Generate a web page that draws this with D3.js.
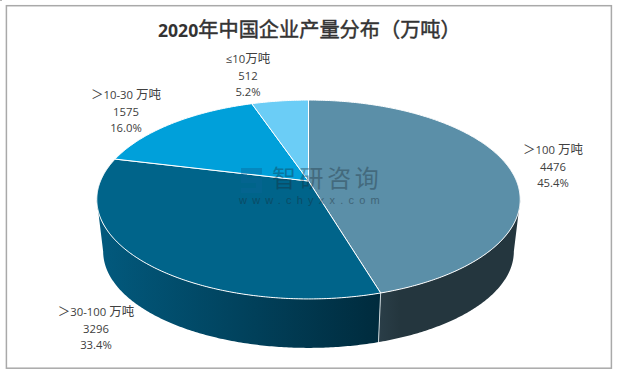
<!DOCTYPE html>
<html><head><meta charset="utf-8">
<script src="https://cdn.jsdelivr.net/npm/d3@7/dist/d3.min.js"></script>
<style>html,body{margin:0;padding:0;background:#fff}svg{display:block}</style>
</head><body><div id="c"></div>
<script>
const categories = ["＞100 万吨", "＞30-100 万吨", "＞10-30 万吨", "≤10万吨"];
const values = [4476, 3296, 1575, 512];
const percents = ["45.4%", "33.4%", "16.0%", "5.2%"];
const topColors = ["#5b8fa8", "#00648a", "#00a0da", "#6bcdf6"];
const sideFrom = ["#24363e", "#025a7e"];
const sideTo = ["#2a3e48", "#002b3d"];
const titleText = "2020年中国企业产量分布（万吨）";

const W = 618, H = 374;
const svg = d3.select("#c").append("svg").attr("width", W).attr("height", H);
const FONT = "'Noto Sans CJK SC','Noto Sans',sans-serif";
const LF = "'Open Sans','Noto Sans CJK SC',sans-serif";
const isCJK = /[\u3000-\u9fff\uff00-\uffef]/;

// split a string into runs of CJK / non-CJK so each can have its own size
function runs(s) {
  const out = [];
  for (const ch of s) {
    const c = isCJK.test(ch);
    if (out.length && out[out.length - 1].c === c) out[out.length - 1].t += ch;
    else out.push({ t: ch, c });
  }
  return out;
}

svg.append("rect").attr("x", 0).attr("y", 0).attr("width", 2).attr("height", 1).attr("fill", "#b5b5b5");
svg.append("rect").attr("x", 6.4).attr("y", 5.7).attr("width", 605).attr("height", 362.5)
  .attr("fill", "#fff").attr("stroke", "#a9a9a9").attr("stroke-width", 1.5);

const title = svg.append("text").attr("x", 158).attr("y", 37).attr("text-anchor", "start").attr("fill", "#333");
runs(titleText).forEach(r => {
  title.append("tspan").text(r.t)
    .attr("font-family", r.c ? FONT : LF)
    .attr("font-weight", r.c ? 400 : 700)
    .attr("font-size", r.c ? 20.2 : 17.6)
    .attr("stroke", r.c ? "#333" : "none").attr("stroke-width", r.c ? 0.45 : 0);
});

// Perspective projection of a flat disc
const cx = 308.5, cy = 181, A = 208, B = 96, k = 0.186, depth = 52.5, shrink = 0.97;
function proj(theta, lower) {
  const u = Math.sin(theta), v = Math.cos(theta), w = 1 + k * v;
  const s = lower ? shrink : 1;
  return [cx + s * A * u / w, cy + (lower ? depth : 0) - s * B * v / w];
}
const pie = d3.pie().sort(null).value(d => d)(values);
const line = d3.line();
function arcPts(a0, a1, lower) {
  const n = Math.max(2, Math.ceil((a1 - a0) / 0.01));
  return d3.range(n + 1).map(i => proj(a0 + (a1 - a0) * i / n, lower));
}
// angles where the disc is widest: the wall's silhouette starts there
const silR = Math.acos(-k), silL = 2 * Math.PI - silR;

const defs = svg.append("defs");
const walls = svg.append("g");
pie.slice(0, 2).forEach((p, i) => {
  const a0 = Math.max(p.startAngle, silR), a1 = Math.min(p.endAngle, silL);
  const T = arcPts(a0, a1, false), Bt = arcPts(a0, a1, true);
  const xs = d3.extent(T.concat(Bt), d => d[0]);
  const g = defs.append("linearGradient").attr("id", "side" + i).attr("gradientUnits", "userSpaceOnUse")
    .attr("x1", i === 0 ? xs[1] : xs[0]).attr("x2", i === 0 ? xs[0] : xs[1]).attr("y1", 0).attr("y2", 0);
  g.append("stop").attr("offset", 0).attr("stop-color", sideFrom[i]);
  g.append("stop").attr("offset", i === 0 ? 0.85 : 1).attr("stop-color", i === 0 ? sideFrom[i] : sideTo[i]);
  if (i === 0) g.append("stop").attr("offset", 1).attr("stop-color", sideTo[i]);
  walls.append("path")
    .attr("d", line(T.concat(Bt.slice().reverse())) + "Z")
    .attr("fill", `url(#side${i})`);
});
const sb = pie[0].endAngle;
walls.append("path").attr("d", line([proj(sb, false), proj(sb, true)]))
  .attr("stroke", "#ccd6da").attr("stroke-width", 1).attr("fill", "none");

// top faces
const tops = svg.append("g");
const apex = [cx, cy];
pie.forEach((p, i) => {
  tops.append("path")
    .attr("d", line([apex].concat(arcPts(p.startAngle, p.endAngle, false))) + "Z")
    .attr("fill", topColors[i]).attr("stroke", "#fff").attr("stroke-width", 1).attr("stroke-linejoin", "round");
});

// watermark
const wm = svg.append("g");
wm.append("path").attr("d", "M241 168h21v6h-15v4h15v15h-21v-5h15v-5h-15z").attr("fill", "#0a6596").attr("opacity", .4);
wm.append("text").attr("x", 272).attr("y", 187).attr("font-family", FONT).attr("font-size", 24)
  .attr("letter-spacing", 3.6).attr("fill", "#1a2a33").attr("opacity", .36).text("智研咨询");
wm.append("text").attr("x", 239).attr("y", 204).attr("font-family", "'Liberation Sans',sans-serif").attr("font-size", 11)
  .attr("letter-spacing", 5.2).attr("fill", "#1a2a33").attr("opacity", .42).text("www.chyxx.com");

// labels
const labelAnchors = [[553, 150], [96, 312], [126, 95], [248, 59]];
const lab = svg.append("g").attr("fill", "#404040").attr("text-anchor", "middle");
categories.forEach((c, i) => {
  const [x, y] = labelAnchors[i];
  [c, String(values[i]), percents[i]].forEach((t, j) => {
    const el = lab.append("text").attr("x", x).attr("y", y + j * 16.7 + 4);
    runs(t).forEach(r => el.append("tspan").text(r.t)
      .attr("font-family", r.c ? FONT : LF)
      .attr("font-size", r.c ? 12.5 : 11.3));
  });
});
</script></body></html>
